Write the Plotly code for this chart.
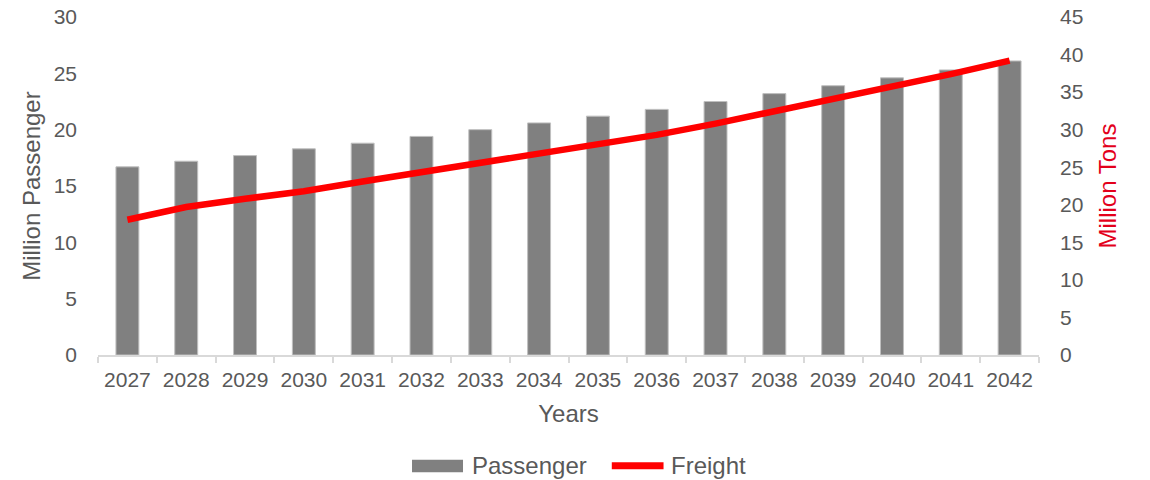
import plotly.graph_objects as go
from plotly.subplots import make_subplots

years = ["2027", "2028", "2029", "2030", "2031", "2032", "2033", "2034",
         "2035", "2036", "2037", "2038", "2039", "2040", "2041", "2042"]
passenger = [16.7, 17.2, 17.7, 18.3, 18.8, 19.4, 20.0, 20.6,
             21.2, 21.8, 22.5, 23.2, 23.9, 24.6, 25.3, 26.1]
freight = [18.0, 19.7, 20.8, 21.8, 23.1, 24.3, 25.5, 26.8,
           27.9, 29.3, 30.8, 32.4, 34.0, 35.6, 37.4, 39.2]

left_ticks = [0, 5, 10, 15, 20, 25, 30]
right_ticks = [0, 5, 10, 15, 20, 25, 30, 35, 40, 45]

FONT = "Liberation Sans, Arial, sans-serif"
GREY_TEXT = "#595959"
BAR_COLOR = "#808080"
LINE_COLOR = "#FF0000"
TONS_COLOR = "#E3001B"
TICK_SIZE = 21
TITLE_SIZE = 24

fig = make_subplots(specs=[[{"secondary_y": True}]])

fig.add_trace(
    go.Bar(x=years, y=passenger, name="Passenger",
           marker=dict(color=BAR_COLOR, line=dict(color="#bfbfbf", width=1)),
           showlegend=False),
    secondary_y=False,
)
fig.add_trace(
    go.Scatter(x=years, y=freight, name="Freight", mode="lines",
               line=dict(color=LINE_COLOR, width=6.5),
               showlegend=False),
    secondary_y=True,
)

fig.update_layout(
    width=1150, height=480,
    margin=dict(l=98, r=111, t=17, b=125),
    plot_bgcolor="white", paper_bgcolor="white",
    bargap=0.61,
    font=dict(family=FONT, color=GREY_TEXT, size=TICK_SIZE),
)

fig.update_xaxes(
    type="category", automargin=False, domain=[0, 1], tickangle=0,
    showgrid=False, showline=True, linecolor="#d9d9d9", linewidth=2,
    ticks="outside", tickson="boundaries", ticklen=6, tickcolor="#d9d9d9", tickwidth=2,
    ticklabelstandoff=5,
    tickfont=dict(size=TICK_SIZE, color=GREY_TEXT),
    title=dict(text="Years", font=dict(size=TITLE_SIZE, color=GREY_TEXT), standoff=15),
)
fig.update_yaxes(
    range=[0, 30], tickvals=left_ticks, showgrid=False, zeroline=False,
    automargin=False, ticks="", ticklabelstandoff=20,
    tickfont=dict(size=TICK_SIZE, color=GREY_TEXT),
    title=dict(text="Million Passenger", font=dict(size=TITLE_SIZE, color=GREY_TEXT), standoff=6),
    secondary_y=False,
)
fig.update_yaxes(
    range=[0, 45], tickvals=right_ticks, showgrid=False, zeroline=False,
    automargin=False, ticks="", ticklabelstandoff=20,
    tickfont=dict(size=TICK_SIZE, color=GREY_TEXT),
    title=dict(text="Million Tons", font=dict(size=TITLE_SIZE, color=TONS_COLOR), standoff=16),
    secondary_y=True,
)

# Legend drawn below the plot area in paper coordinates
leg_y = -0.328
fig.add_shape(type="rect", xref="paper", yref="paper",
              x0=0.3337, x1=0.3879, y0=leg_y - 0.019, y1=leg_y + 0.018,
              fillcolor=BAR_COLOR, line=dict(width=0))
fig.add_annotation(x=0.3953, y=leg_y, xref="paper", yref="paper",
                   text="Passenger", showarrow=False, xanchor="left", yanchor="middle",
                   font=dict(size=TITLE_SIZE, color=GREY_TEXT))
fig.add_shape(type="line", xref="paper", yref="paper",
              x0=0.546, x1=0.601, y0=leg_y, y1=leg_y,
              line=dict(color=LINE_COLOR, width=7))
fig.add_annotation(x=0.6068, y=leg_y, xref="paper", yref="paper",
                   text="Freight", showarrow=False, xanchor="left", yanchor="middle",
                   font=dict(size=TITLE_SIZE, color=GREY_TEXT))

fig.write_html("out.html")
